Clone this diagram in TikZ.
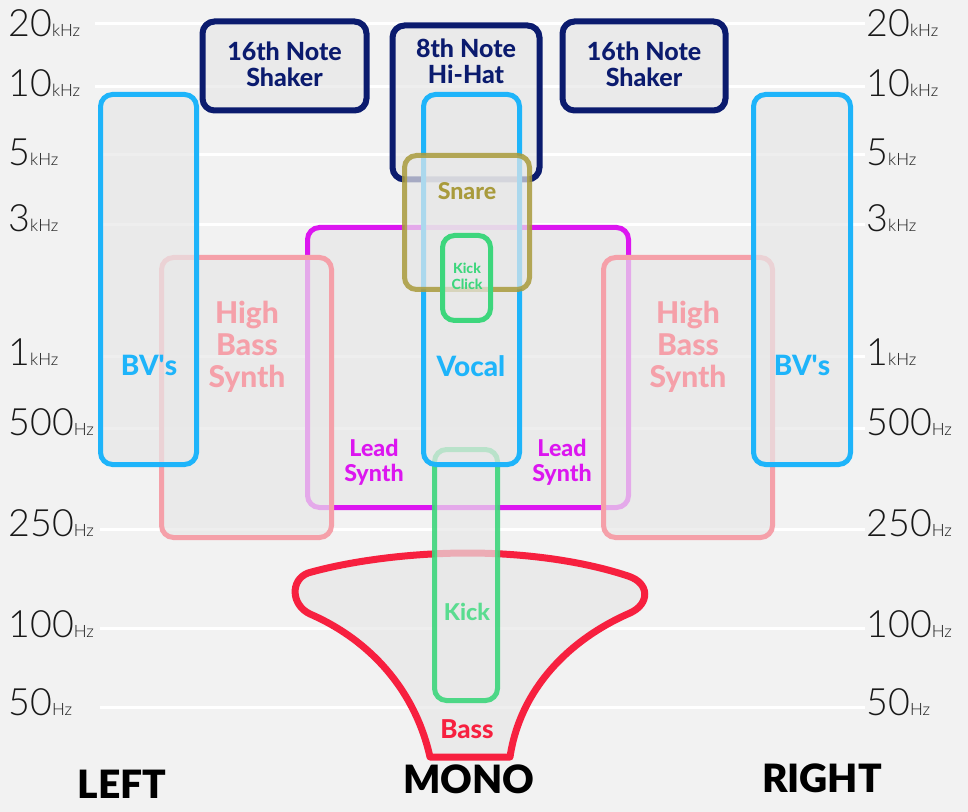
\documentclass[tikz,border=0pt]{standalone}
\usepackage{fontspec}
\setmainfont{Lato}
\newfontfamily\thinfont{Lato}[UprightFont=* Light]
\newfontfamily\heavyfont{Lato}[UprightFont=* Heavy]
\newfontfamily\blackfont{Lato}[UprightFont=* Black]
\usetikzlibrary{fit}

\definecolor{bggray}{HTML}{F2F2F2}
\definecolor{bvblue}{HTML}{1EB4FA}
\definecolor{hatnavy}{HTML}{0B1B6E}
\definecolor{snareolive}{HTML}{A99B3C}
\definecolor{kickgreen}{HTML}{3DD67C}
\definecolor{leadmagenta}{HTML}{DC16F0}
\definecolor{hbpink}{HTML}{F5A0A9}
\definecolor{bassred}{HTML}{F7203F}

\newcommand{\fsz}[2]{\fontsize{#1}{#2}\selectfont}
\newcommand{\freq}[2]{{\thinfont\fsz{18.8}{20}#1}{\thinfont\fsz{8.5}{9}#2}}

\tikzset{
	band/.style={draw=#1, line width=2.5pt, rounded corners=6pt, fill=black!9, fill opacity=0.7, inner sep=0pt},
	bandtext/.style={text=#1, align=center, inner sep=0pt},
	freqlabel/.style={anchor=base west, inner sep=0pt, text=black!90},
	sidelabel/.style={anchor=base, inner sep=0pt, font=\blackfont\fsz{19.5}{20}},
	gridline/.style={white, line width=1.5pt}
}

\begin{document}
\begin{tikzpicture}[x=0.5pt, y=-0.5pt]
	\useasboundingbox (0,0) rectangle (968,812);
	\fill[bggray] (0,0) rectangle (968,812);

	% grid %
	\draw[gridline] (95,24) -- (865,24);
	\draw[gridline] (95,87) -- (865,87);
	\draw[gridline] (100,155) -- (865,155);
	\draw[gridline] (100,225) -- (865,225);
	\draw[gridline] (100,357) -- (865,357);
	\draw[gridline] (100,428) -- (865,428);
	\draw[gridline] (100,529) -- (865,529);
	\draw[gridline] (100,628) -- (865,628);
	\draw[gridline] (100,707) -- (865,707);

	% frequency labels %
	\node[freqlabel] (l20k) at (8,37) {\freq{20}{kHz}};
	\node[freqlabel] (l10k) at (8,97) {\freq{10}{kHz}};
	\node[freqlabel] (l5k) at (8,166) {\freq{5}{kHz}};
	\node[freqlabel] (l3k) at (8,232) {\freq{3}{kHz}};
	\node[freqlabel] (l1k) at (8,365) {\freq{1}{kHz}};
	\node[freqlabel] (l500) at (8,435) {\freq{500}{Hz}};
	\node[freqlabel] (l250) at (8,536) {\freq{250}{Hz}};
	\node[freqlabel] (l100) at (8,637) {\freq{100}{Hz}};
	\node[freqlabel] (l50) at (8,715) {\freq{50}{Hz}};
	\node[freqlabel] (r20k) at (866,37) {\freq{20}{kHz}};
	\node[freqlabel] (r10k) at (866,97) {\freq{10}{kHz}};
	\node[freqlabel] (r5k) at (866,166) {\freq{5}{kHz}};
	\node[freqlabel] (r3k) at (866,232) {\freq{3}{kHz}};
	\node[freqlabel] (r1k) at (866,365) {\freq{1}{kHz}};
	\node[freqlabel] (r500) at (866,435) {\freq{500}{Hz}};
	\node[freqlabel] (r250) at (866,536) {\freq{250}{Hz}};
	\node[freqlabel] (r100) at (866,637) {\freq{100}{Hz}};
	\node[freqlabel] (r50) at (866,715) {\freq{50}{Hz}};

	% bands %
	\node[band=hatnavy, line width=3pt, fit={(202.5,21.5) (366.5,110.5)}] (shakerL) {};
	\node[band=hatnavy, line width=3pt, fit={(562.5,21.5) (725.5,110.5)}] (shakerR) {};
	\node[band=hatnavy, line width=3pt, fit={(392.5,25.5) (539.5,179.5)}] (hihat) {};
	\node[band=leadmagenta, fit={(307.5,227.5) (628.5,507.5)}] (lead) {};
	\node[band=hbpink, fit={(161.5,257.5) (331.5,537.5)}] (hbsL) {};
	\node[band=hbpink, fit={(603.5,257.5) (772.5,537.5)}] (hbsR) {};
	\node[band=bvblue, fit={(100.5,94.5) (196.5,464.5)}] (bvL) {};
	\node[band=bvblue, fit={(753.5,94.5) (850.5,464.5)}] (bvR) {};
	\draw[bassred, line width=3.5pt, fill=black!9, fill opacity=0.7, line join=round]
		(430,757) -- (510,757) .. controls (520,690) and (568,640) .. (630,613)
		.. controls (650,604) and (650,583) .. (628,576)
		.. controls (580,560) and (520,553) .. (468,553)
		.. controls (410,553) and (350,561) .. (308,573)
		.. controls (290,580) and (291,605) .. (310,614)
		.. controls (370,640) and (415,690) .. (430,757) -- cycle;
	\node[band=kickgreen, draw opacity=0.9, fit={(434.5,449.5) (497.5,700.5)}] (kick) {};
	\node[band=bvblue, fit={(423.5,94.5) (519.5,464.5)}] (vocal) {};
	\node[band=snareolive, draw opacity=0.85, fit={(404.5,155.5) (529.5,289.5)}] (snare) {};
	\node[band=kickgreen, fit={(442.5,235.5) (490.5,320.5)}] (kickclick) {};

	% band labels %
	\node[bandtext=hatnavy, font=\heavyfont\fsz{12.5}{13}] (shakerLtext) at (284.5,64) {16th Note\\Shaker};
	\node[bandtext=hatnavy, font=\heavyfont\fsz{12.5}{13}] (shakerRtext) at (644,64) {16th Note\\Shaker};
	\node[bandtext=hatnavy, font=\heavyfont\fsz{12.5}{13}] (hihattext) at (466,61) {8th Note\\Hi-Hat};
	\node[bandtext=bvblue, font=\heavyfont\fsz{14}{15}, anchor=base] (bvLtext) at (149,375) {BV\textquotesingle s};
	\node[bandtext=bvblue, font=\heavyfont\fsz{14}{15}, anchor=base] (bvRtext) at (802,375) {BV\textquotesingle s};
	\node[bandtext=bvblue, font=\heavyfont\fsz{14}{15}, anchor=base] (vocaltext) at (471,376) {Vocal};
	\node[bandtext=hbpink, font=\heavyfont\fsz{15}{16}] (hbsLtext) at (247,347) {High\\Bass\\Synth};
	\node[bandtext=hbpink, font=\heavyfont\fsz{15}{16}] (hbsRtext) at (688,347) {High\\Bass\\Synth};
	\node[bandtext=leadmagenta, font=\heavyfont\fsz{11.6}{12.5}] (leadLtext) at (374,462) {Lead\\Synth};
	\node[bandtext=leadmagenta, font=\heavyfont\fsz{11.6}{12.5}] (leadRtext) at (562,462) {Lead\\Synth};
	\node[bandtext=snareolive, font=\heavyfont\fsz{11.6}{12}, anchor=base] (snaretext) at (467,200) {Snare};
	\node[bandtext=kickgreen, font=\heavyfont\fsz{7}{8}] (kickclicktext) at (467,276) {Kick\\Click};
	\node[bandtext=kickgreen!85!white, font=\heavyfont\fsz{11.6}{12}, anchor=base] (kicktext) at (467,620) {Kick};
	\node[bandtext=bassred, font=\heavyfont\fsz{13}{14}, anchor=base] (basstext) at (467,738) {Bass};

	% sides %
	\node[sidelabel] (left) at (122,798) {LEFT};
	\node[sidelabel] (mono) at (469,793) {MONO};
	\node[sidelabel] (right) at (822,792) {RIGHT};
\end{tikzpicture}
\end{document}
